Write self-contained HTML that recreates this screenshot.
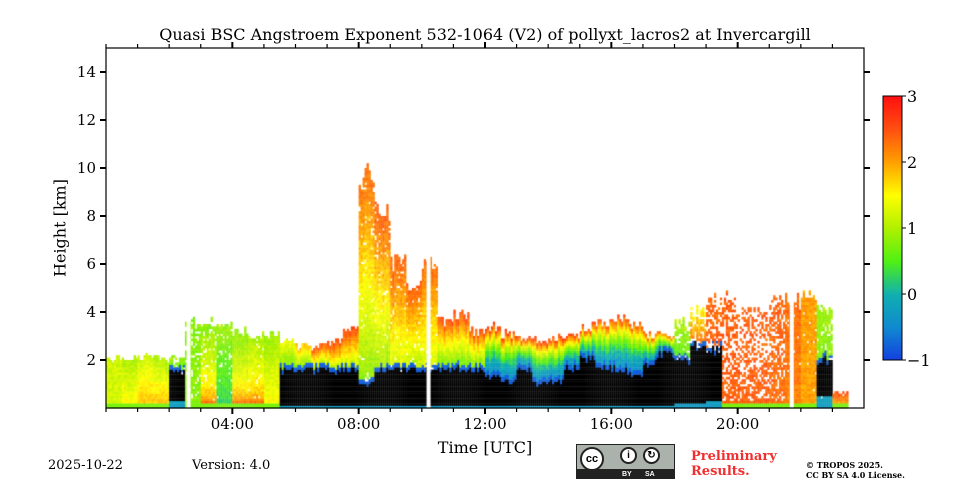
<!DOCTYPE html>
<html><head><meta charset="utf-8">
<style>
body{margin:0;background:#fff;width:960px;height:480px;overflow:hidden;position:relative;font-family:"DejaVu Serif","Liberation Serif",serif;color:#000}
.t{position:absolute;white-space:nowrap}
canvas,svg{position:absolute;left:0;top:0}
</style></head>
<body>
<canvas id="c" width="960" height="480"></canvas>
<svg id="s" width="960" height="480"></svg>
<div class="t" style="left:0;width:970px;text-align:center;top:25px;font-size:16px">Quasi BSC Angstroem Exponent 532-1064 (V2) of pollyxt_lacros2 at Invercargill</div>
<div class="t" style="left:60px;top:228px;font-size:16px;transform:translate(-50%,-50%) rotate(-90deg)">Height [km]</div>
<div class="t" style="left:485px;top:438px;font-size:16px;transform:translateX(-50%)">Time [UTC]</div>
<div class="t" style="left:48px;top:458px;font-size:13px">2025-10-22</div>
<div class="t" style="left:192px;top:458px;font-size:13px">Version: 4.0</div>
<div style="position:absolute;left:576px;top:444px;width:97px;height:33px;background:#abb1ab;border:1px solid #222">
 <div style="position:absolute;left:0;bottom:0;width:97px;height:9px;background:#222"></div>
 <div style="position:absolute;left:3px;top:2px;width:24px;height:24px;border-radius:50%;background:#fff;border:2px solid #222;box-sizing:border-box;font:bold 11px 'Liberation Sans',sans-serif;text-align:center;line-height:20px">cc</div>
 <div style="position:absolute;left:43px;top:2px;width:17px;height:17px;border-radius:50%;background:#fff;border:2px solid #222;box-sizing:border-box;font:bold 10px 'Liberation Sans',sans-serif;text-align:center;line-height:13px">i</div>
 <div style="position:absolute;left:66px;top:2px;width:17px;height:17px;border-radius:50%;background:#fff;border:2px solid #222;box-sizing:border-box;font:bold 10px 'Liberation Sans',sans-serif;text-align:center;line-height:13px">↻</div>
 <div style="position:absolute;left:45px;bottom:0;font:bold 7px 'Liberation Sans',sans-serif;color:#fff">BY</div>
 <div style="position:absolute;left:68px;bottom:0;font:bold 7px 'Liberation Sans',sans-serif;color:#fff">SA</div>
</div>
<div class="t" style="left:691px;top:449px;font-size:13px;font-weight:bold;color:#f03030;line-height:15px">Preliminary<br>Results.</div>
<div class="t" style="left:806px;top:460px;font-size:8px;font-weight:bold;line-height:10px">© TROPOS 2025.<br>CC BY SA 4.0 License.</div>
<script>
// half-hourly columns starting at these hours
const colStart=[0,0.5,1,1.5,2,2.5,3,3.5,4,4.5,5,5.5,6,6.5,7,7.5,8,8.5,9,9.5,10,10.5,11,11.5,12,12.5,13,13.5,14,14.5,15,15.5,16,16.5,17,17.5,18,18.5,19,19.5,20,20.5,21,21.5,22,22.5,23,23.5];
const layerTop=[2.0,2.0,2.1,2.0,2.0,3.5,3.5,3.5,3.2,3.0,3.0,2.7,2.5,2.5,2.7,3.2,9.6,8.0,6.0,5.0,6.0,3.5,3.8,3.2,3.3,3.0,2.8,2.8,2.9,3.0,3.3,3.5,3.8,3.5,3.0,3.0,3.5,4.0,4.5,4.5,4.0,4.0,4.5,4.5,4.5,4.0,0.6,0];
const cloudBase=[0,0,0,0,0.3,0,0,0,0,0,0,0.1,0.1,0.1,0.1,0.1,0.1,0.1,0.1,0.1,0.1,0.1,0.1,0.1,0.15,0.15,0.15,0.15,0.15,0.15,0.15,0.15,0.15,0.15,0.15,0.15,0.2,0.2,0.3,0,0,0,0,0,0,0.5,0,0];
const cloudTop=[0,0,0,0,1.5,0,0,0,0,0,0,1.6,1.6,1.6,1.6,1.6,1.0,1.6,1.6,1.6,1.6,1.6,1.6,1.6,1.3,1.1,1.6,1.0,1.1,1.7,2.1,1.7,1.6,1.4,1.9,2.3,2.0,2.6,2.4,0,0,0,0,0,0,2.0,0,0];
const aeLow=[1.2,1.5,1.8,1.8,0.5,0.8,2.3,0.3,2.3,2.3,1.5,0.6,0.6,0.7,0.8,0.9,0.8,0.9,1.2,1.0,1.2,0.6,0.6,0.6,-0.4,-0.4,-0.4,-0.4,-0.4,-0.4,-0.3,-0.3,-0.4,-0.4,-0.3,-0.2,0.5,2.4,2.4,2.4,2.4,2.4,2.3,2.2,2.0,0.8,2.0,0];
const aeHigh=[1.2,1.0,1.2,1.0,0.9,0.8,0.8,0.9,0.8,1.0,0.9,1.4,1.8,2.4,2.5,2.5,2.3,2.4,2.4,2.4,2.3,2.5,2.5,2.5,2.6,2.6,2.5,2.5,2.5,2.5,2.5,2.4,2.5,2.4,2.3,2.2,1.0,1.5,2.3,2.4,2.4,2.4,2.4,2.3,2.0,0.9,2.5,0];
const aeShape=[1,1,1,1,1,1,0.5,1,0.5,0.5,1,1,1,1,1,1,1,1,1,1,1,1.2,1.2,1.2,1.8,1.8,1.8,1.8,1.8,1.8,1.8,1.8,1.8,1.8,1.8,1.8,1,1,1,1,1,1,1,1,1,1,1,1];
const coverage=[1,1,1,1,0.85,0.8,0.85,0.85,1,0.9,1,1,1,1,1,1,0.9,0.9,0.9,0.9,0.95,1,1,1,1,1,1,1,1,1,1,1,1,1,1,1,0.8,0.7,0.55,0.45,0.4,0.45,0.55,0.95,0.9,0.85,0.9,0];
const gapHours=[2.55,10.15,21.65];
const xTickLabels=["04:00","08:00","12:00","16:00","20:00"];
const xTickHours=[4,8,12,16,20];
const yTickLabels=["2","4","6","8","10","12","14"];
const cbTickLabels=["3","2","1","0","\u22121"];
const cbTickValues=[3,2,1,0,-1];

const X0=106,X1=864,Y0=408,Y1=48;
const xs=h=>X0+h*(X1-X0)/24;
const ys=k=>Y0-k*(Y0-Y1)/15;
const stops=[[-1,[20,64,224]],[-0.5,[16,138,208]],[0,[16,176,176]],[0.5,[80,240,20]],[1,[176,240,0]],[1.5,[255,255,0]],[2,[255,160,0]],[2.5,[255,80,16]],[3,[255,16,16]]];
function cmap(v){v=Math.max(-1,Math.min(3,v));for(let i=1;i<stops.length;i++){if(v<=stops[i][0]){const a=stops[i-1],b=stops[i],f=(v-a[0])/(b[0]-a[0]);return `rgb(${a[1].map((c,j)=>Math.round(c+(b[1][j]-c)*f)).join(',')})`;}}return 'rgb(255,16,16)';}
function hash(a,b){let h=(a*374761393+b*668265263)|0;h=(h^(h>>>13))*1274126177|0;return ((h^(h>>>16))>>>0)/4294967296;}

const cv=document.getElementById('c');const ctx=cv.getContext('2d');
const NSUB=8;
const colW=xs(0.5)-xs(0),cellW=colW/NSUB,dk=0.1,cellH=ys(0)-ys(dk);
for(let i=0;i<colStart.length;i++){
  if(layerTop[i]<=0)continue;
  for(let sx=0;sx<NSUB;sx++){
    const top=layerTop[i]*(0.93+0.14*hash(i*31+sx,7));
    const ct=cloudTop[i]>0?cloudTop[i]*(0.9+0.2*hash(i*17+sx,3)):0;
    const x=xs(colStart[i])+sx*cellW;
    for(let k=0;k<top;k+=dk){
      const mid=k+dk/2;let col;
      if(ct>0&&mid>=cloudBase[i]&&mid<ct) col='#000';
      else{
        const fz=mid/top;
        const cov=coverage[i]+(1-coverage[i])*Math.max(0,0.6-fz);
        if(hash(i*8+sx,Math.round(k*10))>cov&&mid>0.3)continue;
        if(mid<0.25) col=cmap(ct>0?-0.3:0.7);
        else if(ct>0&&mid<cloudBase[i]) col=cmap(-0.2);
        else{
          const b=ct>0?ct:0.25;
          if(ct>0&&mid<b+0.2){col=cmap(-0.8);}
          else{const f=Math.max(0,Math.min(1,(mid-b)/Math.max(0.1,top-b)));col=cmap(aeLow[i]+(aeHigh[i]-aeLow[i])*Math.pow(f,aeShape[i])+0.3*(hash(i*5+sx,Math.round(k*10)+99)-0.5));}
        }
      }
      ctx.fillStyle=col;ctx.fillRect(x,ys(k+dk),cellW+0.3,cellH+0.3);
    }
  }
}
ctx.fillStyle='#fff';
gapHours.forEach(g=>ctx.fillRect(xs(g),Y1,4,Y0-Y1));
// colorbar
for(let y=96;y<360;y++){ctx.fillStyle=cmap(3-(y-96)/66);ctx.fillRect(883,y,19,1);}

const s=document.getElementById('s');const NS='http://www.w3.org/2000/svg';
function el(tag,attrs,parent){const e=document.createElementNS(NS,tag);for(const k in attrs)e.setAttribute(k,attrs[k]);(parent||s).appendChild(e);return e;}
const frame=el('rect',{x:X0,y:Y1,width:X1-X0,height:Y0-Y1,fill:'none',stroke:'#000','stroke-width':1.2});


for(let h=0;h<24;h++){
  const major=xTickHours.indexOf(h)>=0,L=major?6:4,w=major?2:1.2;
  el('line',{x1:xs(h),x2:xs(h),y1:Y0,y2:Y0+L,stroke:'#000','stroke-width':w});
  el('line',{x1:xs(h),x2:xs(h),y1:Y1,y2:Y1-L,stroke:'#000','stroke-width':w});
}
xTickLabels.forEach((t,i)=>{const e=el('text',{x:xs(xTickHours[i]),y:429,'text-anchor':'middle','font-size':15,'font-family':'DejaVu Serif,serif'});e.textContent=t;

});
yTickLabels.forEach(t=>{const v=+t,y=ys(v);
  el('line',{x1:X0-6,x2:X0,y1:y,y2:y,stroke:'#000','stroke-width':2});
  el('line',{x1:X1,x2:X1+6,y1:y,y2:y,stroke:'#000','stroke-width':2});
  const e=el('text',{x:X0-10,y:y+5,'text-anchor':'end','font-size':15,'font-family':'DejaVu Serif,serif'});e.textContent=t;
  
  });
const cb=el('rect',{x:883,y:96,width:19,height:264,fill:'none',stroke:'#000','stroke-width':1});


cbTickLabels.forEach((t,i)=>{const y=96+(3-cbTickValues[i])*66;
  el('line',{x1:902,x2:906,y1:y,y2:y,stroke:'#000','stroke-width':1});
  const e=el('text',{x:907,y:y+6,'font-size':16,'font-family':'DejaVu Serif,serif'});e.textContent=t;
  
  });
</script>
</body></html>
